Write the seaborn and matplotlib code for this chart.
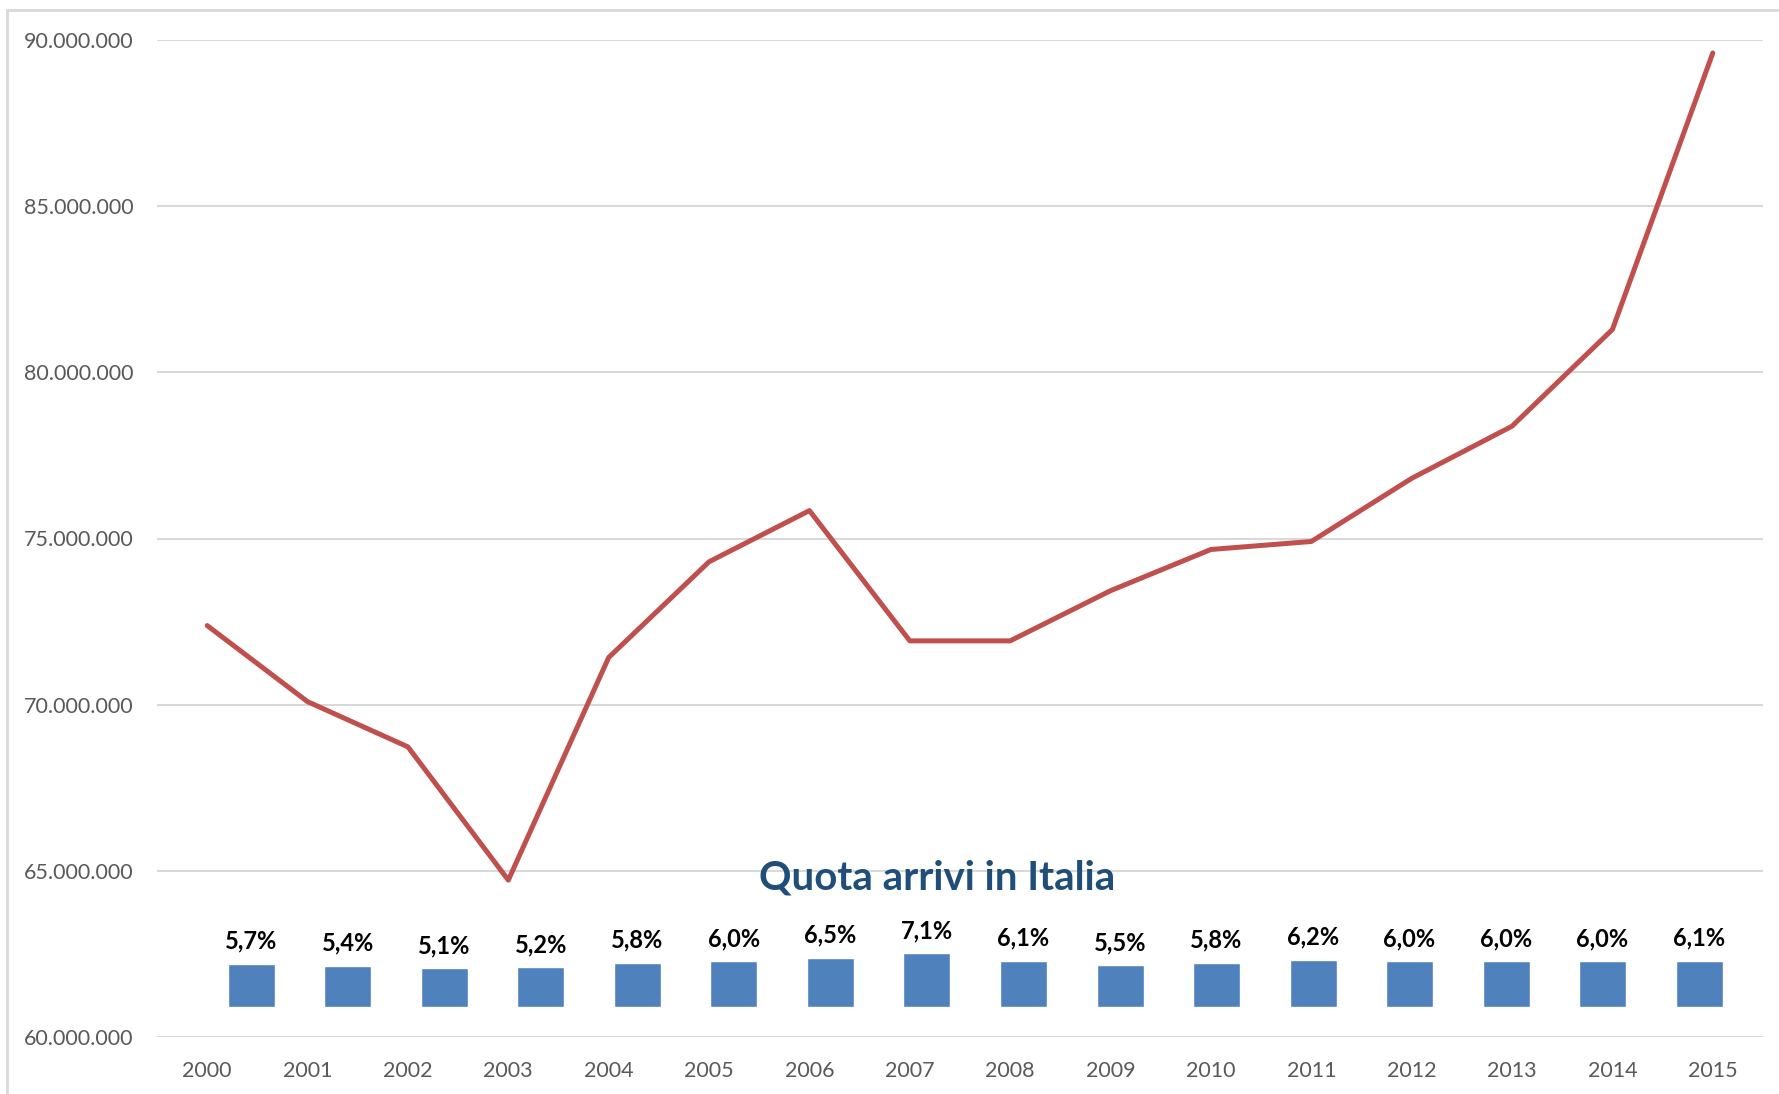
import matplotlib
matplotlib.use("Agg")
import matplotlib.pyplot as plt
import matplotlib.ticker as mticker
from matplotlib.patches import Rectangle
import seaborn as sns
import pandas as pd

# data
years = [2000, 2001, 2002, 2003, 2004, 2005, 2006, 2007,
         2008, 2009, 2010, 2011, 2012, 2013, 2014, 2015]
arrivals = [72.38, 70.09, 68.73, 64.72, 71.42, 74.30, 75.84, 71.92,
            71.92, 73.43, 74.67, 74.91, 76.81, 78.38, 81.29, 89.61]  # millions
share_italy = [5.7, 5.4, 5.1, 5.2, 5.8, 6.0, 6.5, 7.1,
               6.1, 5.5, 5.8, 6.2, 6.0, 6.0, 6.0, 6.1]  # percent
share_labels = ["5,7%", "5,4%", "5,1%", "5,2%", "5,8%", "6,0%", "6,5%", "7,1%",
                "6,1%", "5,5%", "5,8%", "6,2%", "6,0%", "6,0%", "6,0%", "6,1%"]
title_text = "Quota arrivi in Italia"

line_color = "#C0504D"
bar_color = "#4F81BD"
grid_color = "#D9D9D9"
text_gray = "#595959"
title_color = "#1F4E79"

sns.set_theme(style="white")
plt.rcParams["font.family"] = ["Lato", "DejaVu Sans"]

df = pd.DataFrame({"year": years, "arrivals": [a * 1e6 for a in arrivals],
                   "share": share_italy, "label": share_labels})
df["year_str"] = df["year"].astype(str)

fig = plt.figure(figsize=(17.79, 10.94), dpi=100)
pos = [157 / 1779, 1 - 1037 / 1094, (1763 - 157) / 1779, (1037 - 40) / 1094]

# outer chart frame (light gray, cut by the image edges)
fig.patches.append(Rectangle((7 / 1779, -0.05), 1.1, 1 - 10 / 1094 + 0.05,
                             transform=fig.transFigure, fill=False,
                             edgecolor=grid_color, linewidth=2))

# secondary (hidden) axis with the share bars
ax2 = fig.add_axes(pos)
sns.barplot(data=df, x="year_str", y="share", ax=ax2, color=bar_color,
            saturation=1, width=0.487)
ax2.bar_label(ax2.containers[0], labels=share_labels, padding=8,
              fontsize=17, fontweight="bold", color="black")
ax2.set_xlim(-0.979, 15.663)
ax2.set_ylim(-3.95, 127.3)
ax2.axis("off")

# primary axis with the arrivals line
ax = fig.add_axes(pos)
ax.patch.set_alpha(0)
sns.lineplot(data=df, x="year", y="arrivals", ax=ax, color=line_color,
             linewidth=3.6, solid_joinstyle="round", solid_capstyle="round")
ax.set_xlim(1999.5, 2015.5)
ax.set_ylim(60e6, 90e6)
ax.set_xticks(years)
ax.set_xticklabels([str(y) for y in years])
ax.set_yticks(range(60000000, 90000001, 5000000))
ax.yaxis.set_major_formatter(mticker.FuncFormatter(lambda v, p: f"{int(v):,}".replace(",", ".")))
ax.grid(axis="y", color=grid_color, linewidth=1.5)
ax.set_axisbelow(True)
for s in ax.spines.values():
    s.set_visible(False)
ax.tick_params(axis="both", length=0, labelsize=15.5, labelcolor=text_gray)
ax.tick_params(axis="y", pad=17)
ax.tick_params(axis="x", pad=17)
ax.set_xlabel("")
ax.set_ylabel("")

ax2.set_zorder(ax.get_zorder() + 1)
ax2.patch.set_alpha(0)

fig.text(937 / 1779, 1 - 878 / 1094, title_text, ha="center", va="center",
         fontsize=29, fontweight="bold", color=title_color)

fig.savefig("out.png", dpi=100)
